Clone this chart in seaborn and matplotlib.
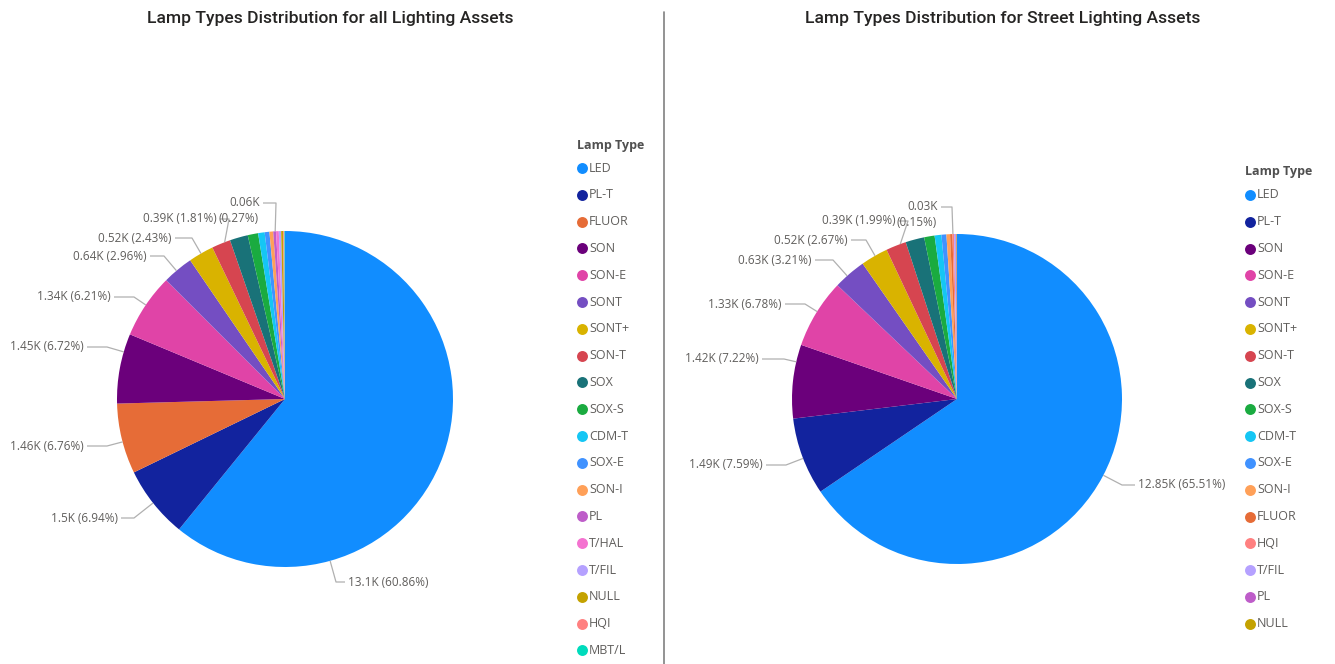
import numpy as np
import matplotlib
matplotlib.use("Agg")
import matplotlib.pyplot as plt
import seaborn as sns

# ---- data -------------------------------------------------------------
all_types = ["LED", "PL-T", "FLUOR", "SON", "SON-E", "SONT", "SONT+", "SON-T",
             "SOX", "SOX-S", "CDM-T", "SOX-E", "SON-I", "PL", "T/HAL", "T/FIL",
             "NULL", "HQI", "MBT/L"]
all_counts = [13103, 1495, 1456, 1447, 1337, 637, 523, 390,
              375, 215, 135, 98, 78, 58, 56, 48, 42, 25, 12]

street_types = ["LED", "PL-T", "SON", "SON-E", "SONT", "SONT+", "SON-T",
                "SOX", "SOX-S", "CDM-T", "SOX-E", "SON-I", "FLUOR", "HQI",
                "T/FIL", "PL", "NULL"]
street_counts = [12847, 1488, 1416, 1330, 629, 524, 390,
                 360, 200, 130, 95, 70, 45, 30, 28, 18, 10]

type_colors = {
    "LED": "#118DFF", "PL-T": "#12239E", "FLUOR": "#E66C37", "SON": "#6B007B",
    "SON-E": "#E044A7", "SONT": "#744EC2", "SONT+": "#D9B300", "SON-T": "#D64550",
    "SOX": "#197278", "SOX-S": "#1AAB40", "CDM-T": "#15C6F4", "SOX-E": "#4092FF",
    "SON-I": "#FFA058", "PL": "#BE5DC9", "T/HAL": "#F472D0", "T/FIL": "#B5A1FF",
    "NULL": "#C4A200", "HQI": "#FF8080", "MBT/L": "#00DBBC",
}

# ---- layout (pixel coordinates, origin top-left) ----------------------
W, H = 1335, 664
# label: (text edge x, leader y, alignment, horizontal leader length)
all_label_layout = {
    "LED": (348, 582, "left", 9),
    "PL-T": (118, 518, "right", 13),
    "FLUOR": (84, 446, "right", 20),
    "SON": (84, 347, "right", 20),
    "SON-E": (111, 297, "right", 20),
    "SONT": (147, 256, "right", 14),
    "SONT+": (172, 238, "right", 17),
    "SON-T": (217, 219, "right", 9),
    "PL": (260, 203, "right", 13),
}
street_label_layout = {
    "LED": (1138, 485, "left", 13),
    "PL-T": (763, 465, "right", 20),
    "SON": (759, 359, "right", 22),
    "SON-E": (782, 304, "right", 20),
    "SONT": (812, 260, "right", 18),
    "SONT+": (848, 240, "right", 15),
    "SON-T": (896, 221, "right", 9),
    "HQI": (938, 207, "right", 11),
}
two_line_labels = {"PL", "HQI"}

panels = [
    dict(title="Lamp Types Distribution for all Lighting Assets", title_x=330,
         types=all_types, counts=all_counts, center=(285, 399), radius=168,
         labels=all_label_layout, legend_xy=(577, 145)),
    dict(title="Lamp Types Distribution for Street Lighting Assets", title_x=1003,
         types=street_types, counts=street_counts, center=(957, 399), radius=165,
         labels=street_label_layout, legend_xy=(1245, 172)),
]

sns.set_theme(style="white")
plt.rcParams["font.family"] = ["Open Sans", "DejaVu Sans"]

fig = plt.figure(figsize=(W / 100, H / 100), dpi=100)
fig.patch.set_facecolor("white")
ax = fig.add_axes([0, 0, 1, 1])


def Y(py):
    return H - py


def fmt_k(v):
    s = f"{v / 1000:.2f}".rstrip("0").rstrip(".")
    return s + "K"


label_color = "#605E5C"
line_color = "#B0B0B0"

for p in panels:
    types, counts = p["types"], np.array(p["counts"], dtype=float)
    total = counts.sum()
    cx, cy = p["center"][0], Y(p["center"][1])
    r = p["radius"]
    pal = sns.color_palette([type_colors[t] for t in types])
    wedges, _ = ax.pie(counts, colors=pal, startangle=90, counterclock=False,
                       center=(cx, cy), radius=r, frame=True,
                       wedgeprops=dict(linewidth=0))

    # data labels with elbow leader lines
    for t, (tx, ty, ha, hlen) in p["labels"].items():
        i = types.index(t)
        w = wedges[i]
        a1, a2 = w.theta1, w.theta2
        ty_ = Y(ty)
        sgn = 1 if ha == "left" else -1
        end_x = tx - sgn * 3
        elbow_x = end_x - sgn * hlen
        ang = np.degrees(np.arctan2(ty_ - cy, elbow_x - cx))
        # bring angle into wedge's range
        while ang < a1:
            ang += 360
        while ang > a1 + 360:
            ang -= 360
        inset = min(2.0, 0.3 * (a2 - a1))
        if ang > a2 - inset:
            d_hi = ang - (a2 - inset)
            d_lo = (a1 + inset + 360) - ang
            ang = a2 - inset if d_hi < d_lo else a1 + inset
        ex = cx + r * np.cos(np.radians(ang))
        ey = cy + r * np.sin(np.radians(ang))
        ax.plot([ex, elbow_x, end_x], [ey, ty_, ty_], color=line_color,
                lw=0.9, solid_capstyle="butt")
        v = counts[i]
        pct = f"({100 * v / total:.2f}%)"
        if t in two_line_labels:
            ax.text(tx, ty_, fmt_k(v), ha=ha, va="center", fontsize=8.5,
                    color=label_color)
            ax.text(tx - 1, ty_ - 16, pct, ha=ha, va="center", fontsize=8.5,
                    color=label_color)
        else:
            ax.text(tx, ty_, f"{fmt_k(v)} {pct}", ha=ha, va="center",
                    fontsize=8.5, color=label_color)

    # chart title
    ax.text(p["title_x"], Y(19), p["title"], ha="center", va="center",
            fontsize=12.6, color="#252423", family=["Roboto", "DejaVu Sans"],
            fontweight="medium")

    # legend
    lx, ly = p["legend_xy"]
    ax.text(lx, Y(ly), "Lamp Type", ha="left", va="center", fontsize=9,
            fontweight="bold", color="#505050")
    for k, t in enumerate(types):
        yy = Y(ly + 23 + k * 26.8)
        ax.scatter([lx + 5], [yy], s=62, color=type_colors[t], linewidths=0)
        ax.text(lx + 12, yy, t, ha="left", va="center", fontsize=9,
                color=label_color)

# divider between the two charts
ax.plot([663.5, 663.5], [Y(12), Y(664)], color="#808080", lw=1.2)

ax.set_xlim(0, W)
ax.set_ylim(0, H)
ax.set_aspect("equal")
ax.axis("off")

fig.savefig("out.png", dpi=100, facecolor="white")
